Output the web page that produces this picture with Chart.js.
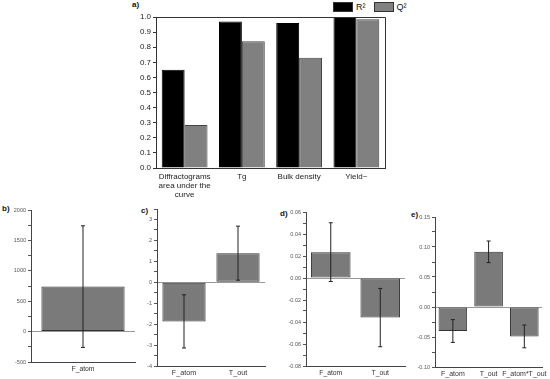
<!DOCTYPE html>
<html>
<head>
<meta charset="utf-8">
<script src="https://cdn.jsdelivr.net/npm/chart.js@4"></script>
<style>
body { margin: 0; background: #fff; width: 550px; height: 379px; position: relative; overflow: hidden; font-family: "Liberation Sans", Arial, sans-serif; }
canvas { position: absolute; }
.tag { position: absolute; font-weight: bold; font-size: 8px; color: #111; line-height: 8px; }
.legend { position: absolute; top: 2px; left: 333px; font-size: 9px; color: #111; line-height: 11px; white-space: nowrap; }
.legend span.box { display: inline-block; width: 20px; height: 10px; vertical-align: top; border: 1px solid #333; box-sizing: border-box; }
.legend span.txt { display: inline-block; vertical-align: top; margin-left: 3px; margin-right: 8px; }
</style>
</head>
<body>
<div class="tag" style="left:132px;top:1px">a)</div>
<div class="tag" style="left:2px;top:205px">b)</div>
<div class="tag" style="left:141px;top:207px">c)</div>
<div class="tag" style="left:280px;top:210px">d)</div>
<div class="tag" style="left:411px;top:211px">e)</div>
<div class="legend"><span class="box" style="background:#000"></span><span class="txt">R²</span><span class="box" style="background:#808080"></span><span class="txt">Q²</span></div>

<canvas id="chartA" width="300" height="205" style="left:110px;top:0px"></canvas>
<canvas id="chartB" width="140" height="179" style="left:0px;top:200px"></canvas>
<canvas id="chartC" width="140" height="179" style="left:130px;top:200px"></canvas>
<canvas id="chartD" width="135" height="179" style="left:272px;top:200px"></canvas>
<canvas id="chartE" width="145" height="179" style="left:405px;top:200px"></canvas>

<script>
// a) model quality
const fitCategories = [['Diffractograms', 'area under the', 'curve'], 'Tg', 'Bulk density', 'Yield~'];
const r2Values = [0.65, 0.97, 0.96, 1.0];
const q2Values = [0.285, 0.84, 0.73, 0.985];

// b) - e) coefficients with error bars
const bCategories = ['F_atom'];
const bValues = [740];
const bErrors = [1000];
const bTicks = { min: -500, max: 2000, step: 250, major: 500, digits: 0 };

const cCategories = ['F_atom', 'T_out'];
const cValues = [-1.87, 1.39];
const cErrors = [1.27, 1.29];
const cTicks = { min: -4, max: 3.5, step: 0.5, major: 1, digits: 0 };

const dCategories = ['F_atom', 'T_out'];
const dValues = [0.0235, -0.036];
const dErrors = [0.0267, 0.0265];
const dTicks = { min: -0.08, max: 0.06, step: 0.01, major: 0.02, digits: 2 };

const eCategories = ['F_atom', 'T_out', 'F_atom*T_out'];
const eValues = [-0.040, 0.092, -0.049];
const eErrors = [0.019, 0.018, 0.019];
const eTicks = { min: -0.10, max: 0.15, step: 0.025, major: 0.05, digits: 2 };

const FONT = '"Liberation Sans", Arial, sans-serif';

const errorBars = {
    id: 'errorBars',
    afterDatasetsDraw(chart) {
        const { ctx } = chart;
        const y = chart.scales.y;
        chart.data.datasets.forEach((ds, i) => {
            if (!ds.errors) return;
            chart.getDatasetMeta(i).data.forEach((bar, j) => {
                const v = ds.data[j], e = ds.errors[j];
                const top = y.getPixelForValue(v + e);
                const bot = y.getPixelForValue(v - e);
                ctx.save();
                ctx.strokeStyle = '#222';
                ctx.lineWidth = 1;
                ctx.beginPath();
                ctx.moveTo(bar.x, top); ctx.lineTo(bar.x, bot);
                ctx.moveTo(bar.x - 2, top); ctx.lineTo(bar.x + 2, top);
                ctx.moveTo(bar.x - 2, bot); ctx.lineTo(bar.x + 2, bot);
                ctx.stroke();
                ctx.restore();
            });
        });
    }
};

const frame = {
    id: 'frame',
    afterDraw(chart) {
        const { ctx, chartArea: a } = chart;
        ctx.save();
        ctx.strokeStyle = '#333';
        ctx.lineWidth = 1;
        ctx.beginPath();
        ctx.moveTo(a.left, a.top + 0.5); ctx.lineTo(a.right + 0.5, a.top + 0.5);
        ctx.lineTo(a.right + 0.5, a.bottom);
        ctx.stroke();
        ctx.restore();
    }
};

new Chart(document.getElementById('chartA'), {
    type: 'bar',
    data: {
        labels: fitCategories,
        datasets: [
            { label: 'R²', data: r2Values, backgroundColor: '#000', borderColor: '#000', borderWidth: 1 },
            { label: 'Q²', data: q2Values, backgroundColor: '#808080', borderColor: '#444', borderWidth: 1 }
        ]
    },
    options: {
        responsive: false, animation: false, devicePixelRatio: 1,
        layout: { padding: { top: 17, right: 25, left: 0, bottom: 0 } },
        plugins: { legend: { display: false }, tooltip: { enabled: false } },
        datasets: { bar: { barPercentage: 1.0, categoryPercentage: 0.8 } },
        scales: {
            x: {
                grid: { display: false, drawTicks: false },
                border: { color: '#333' },
                ticks: { font: { size: 8, family: FONT, lineHeight: 1.15 }, color: '#222', padding: 4, maxRotation: 0, autoSkip: false },
                afterFit: s => { s.height = 37; }
            },
            y: {
                min: 0, max: 1,
                ticks: { stepSize: 0.1, font: { size: 8, family: FONT }, color: '#222', padding: 2, autoSkip: false,
                         callback: v => v.toFixed(1) },
                grid: { drawOnChartArea: false, tickLength: 3, tickColor: '#333' },
                border: { color: '#333' },
                afterFit: s => { s.width = 46; }
            }
        }
    },
    plugins: [frame]
});

function effectChart(id, cats, vals, errs, t, box) {
    return new Chart(document.getElementById(id), {
        type: 'bar',
        data: {
            labels: cats,
            datasets: [{ data: vals, errors: errs, backgroundColor: '#7a7a7a', borderColor: '#333', borderWidth: 1, borderSkipped: false }]
        },
        options: {
            responsive: false, animation: false, devicePixelRatio: 1,
            layout: { padding: { top: box.top, right: box.right, left: 0, bottom: 0 } },
            plugins: { legend: { display: false }, tooltip: { enabled: false } },
            datasets: { bar: { barPercentage: 0.8, categoryPercentage: 1.0 } },
            scales: {
                x: {
                    grid: { display: false, drawTicks: false },
                    border: { color: '#444' },
                    ticks: { font: { size: box.fs, family: FONT }, color: '#333', padding: 3, maxRotation: 0, autoSkip: false },
                    afterFit: s => { s.height = box.xh; }
                },
                y: {
                    min: t.min, max: t.max,
                    ticks: {
                        stepSize: t.step, autoSkip: false, font: { size: 5.5, family: FONT }, color: '#555', padding: 2,
                        callback: v => {
                            const r = v / t.major;
                            return Math.abs(r - Math.round(r)) < 1e-6 ? v.toFixed(t.digits) : '';
                        }
                    },
                    grid: {
                        drawOnChartArea: true,
                        color: c => (c.tick && Math.abs(c.tick.value) < 1e-9) ? '#999' : 'rgba(0,0,0,0)',
                        tickColor: '#555', tickLength: 3
                    },
                    border: { color: '#444' },
                    afterFit: s => { s.width = box.yw; }
                }
            }
        },
        plugins: [errorBars]
    });
}

effectChart('chartB', bCategories, bValues, bErrors, bTicks, { top: 10, right: 5, xh: 17, yw: 31, fs: 6.8 });
effectChart('chartC', cCategories, cValues, cErrors, cTicks, { top: 9, right: 5, xh: 13, yw: 27, fs: 7.2 });
effectChart('chartD', dCategories, dValues, dErrors, dTicks, { top: 12, right: 2, xh: 13, yw: 34, fs: 6.8 });
effectChart('chartE', eCategories, eValues, eErrors, eTicks, { top: 17, right: 3, xh: 12, yw: 30, fs: 7 });
</script>
</body>
</html>
